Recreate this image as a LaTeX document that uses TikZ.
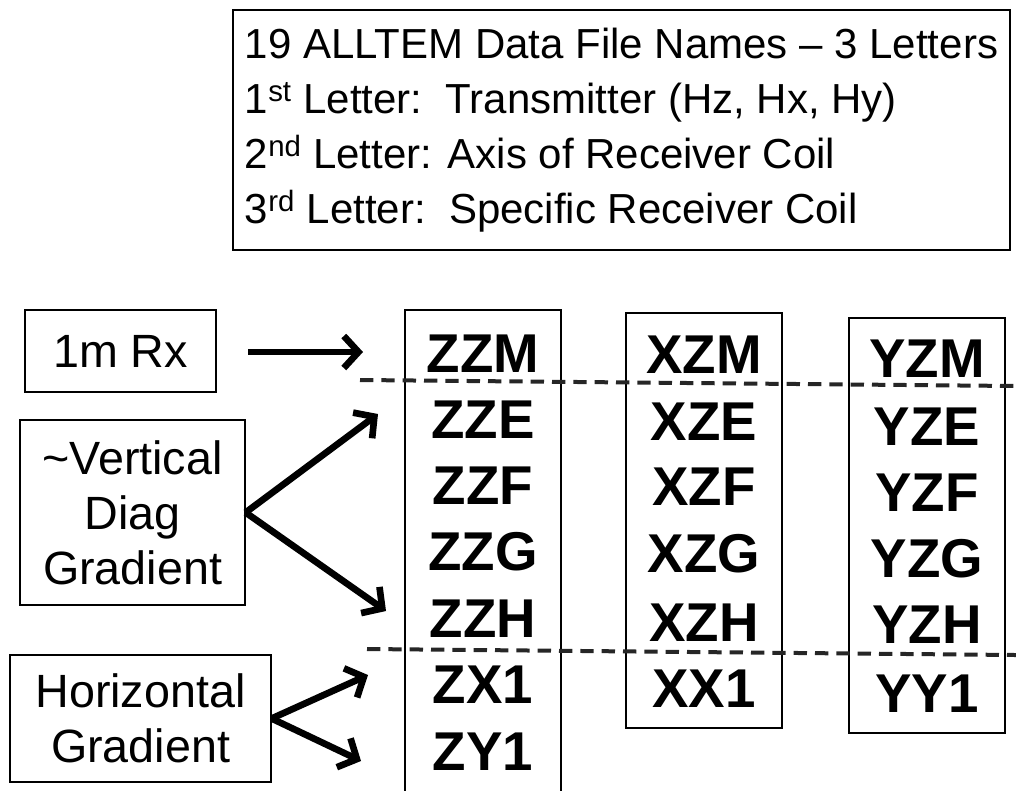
\documentclass[tikz,border=0pt]{standalone}
\usepackage{fontspec}
\setmainfont{Liberation Sans}
\usepackage{tikz}
\usetikzlibrary{arrows.meta}
\tikzset{
	infobox/.style={draw, line width=0.9pt, inner sep=0pt, align=center, font=\fontsize{35}{41.25}\selectfont},
	colbox/.style={draw, line width=0.9pt, inner sep=0pt, minimum width=117pt},
	fname/.style={anchor=base, inner sep=0pt, font=\fontsize{41}{41}\selectfont\bfseries},
	pointer/.style={line width=5pt, -{Straight Barb[length=11pt,width=24pt]}},
	divider/.style={line width=3pt, black!85, dash pattern=on 10pt off 6pt}
}
\begin{document}
\begin{tikzpicture}[x=0.75pt, y=-0.75pt]
	\useasboundingbox (0,0) rectangle (1016,790);
	\node[infobox, align=left, font=\fontsize{31.5}{41.25}\selectfont, minimum width=582.75pt, minimum height=180pt] (legend) at (621.5,130) {19 ALLTEM Data File Names -- 3 Letters\\
	1\textsuperscript{st} Letter:\ \ Transmitter (Hz, Hx, Hy)\\
	2\textsuperscript{nd} Letter: Axis of Receiver Coil\\
	3\textsuperscript{rd} Letter:\ \ Specific Receiver Coil};
	\node[infobox, minimum width=143.25pt, minimum height=61.5pt] (rx) at (120.5,351) {1m Rx};
	\node[infobox, minimum width=168.75pt, minimum height=138.75pt] (vert) at (132.5,512.5) {\textasciitilde Vertical\\Diag\\Gradient};
	\node[infobox, minimum width=195.75pt, minimum height=95.25pt] (horiz) at (140.5,718.5) {Horizontal\\Gradient};
	\node[colbox, minimum height=367.5pt] (colZ) at (483,555) {};
	\node[colbox, minimum height=311.25pt] (colX) at (704,520.5) {};
	\node[colbox, minimum height=311.25pt] (colY) at (927,525.5) {};
	\node[fname] (zzm) at (483,372) {ZZM};
	\node[fname] (zze) at (483,438) {ZZE};
	\node[fname] (zzf) at (483,504) {ZZF};
	\node[fname] (zzg) at (483,570) {ZZG};
	\node[fname] (zzh) at (483,637) {ZZH};
	\node[fname] (zx1) at (483,703) {ZX1};
	\node[fname] (zy1) at (483,770) {ZY1};
	\node[fname] (xzm) at (704,373) {XZM};
	\node[fname] (xze) at (704,440) {XZE};
	\node[fname] (xzf) at (704,505) {XZF};
	\node[fname] (xzg) at (704,572) {XZG};
	\node[fname] (xzh) at (704,641) {XZH};
	\node[fname] (xx1) at (704,707) {XX1};
	\node[fname] (yzm) at (927,377) {YZM};
	\node[fname] (yze) at (927,445) {YZE};
	\node[fname] (yzf) at (927,511) {YZF};
	\node[fname] (yzg) at (927,577) {YZG};
	\node[fname] (yzh) at (927,643) {YZH};
	\node[fname] (yy1) at (927,712) {YY1};
	\coordinate (rxtail) at (248,352);
	\coordinate (rxtip) at (363,352);
	\coordinate (vtip1) at (378,414);
	\coordinate (vtip2) at (386,611);
	\coordinate (htip1) at (368,675);
	\coordinate (htip2) at (361,761);
	\coordinate (cut1a) at (360,380);
	\coordinate (cut1b) at (1016,386);
	\coordinate (cut2a) at (367,649);
	\coordinate (cut2b) at (1016,655);
	\draw[pointer] (rxtail) -- (rxtip);
	\draw[pointer] (vert.east) -- (vtip1);
	\draw[pointer] (vert.east) -- (vtip2);
	\draw[pointer] (horiz.east) -- (htip1);
	\draw[pointer] (horiz.east) -- (htip2);
	\draw[divider] (cut1a) -- (cut1b);
	\draw[divider] (cut2a) -- (cut2b);
\end{tikzpicture}
\end{document}
